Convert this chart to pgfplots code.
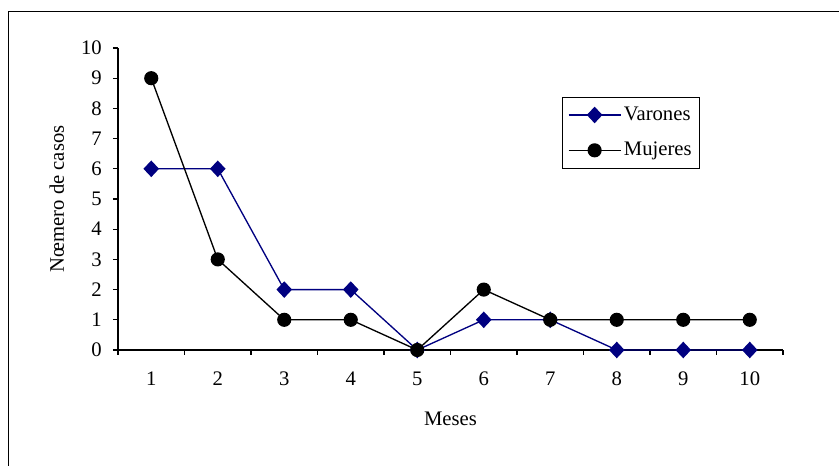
\documentclass[border=0pt]{standalone}
\usepackage{pgfplots}
\pgfplotsset{compat=1.18}
\usepackage{fontspec}
\setmainfont{Liberation Serif}
\definecolor{varones}{HTML}{000080}

\begin{document}
\fontsize{15.5}{18}\selectfont
\begin{tikzpicture}
	% page = 839 x 466 px, 1 px = 0.75pt
	\useasboundingbox (0pt,0pt) rectangle (629.25pt,349.5pt);
	\draw[line width=1pt] (6.4pt,-5pt) -- (6.4pt,340.9pt) -- (640pt,340.9pt);
	\begin{axis}[
			at={(88.5pt,87pt)},
			anchor=south west,
			scale only axis,
			width=498.75pt,
			height=226.5pt,
			xmin=0.5, xmax=10.5,
			ymin=0, ymax=10,
			axis x line=bottom,
			axis y line=left,
			axis line style={-, line width=0.8pt},
			xtick={0.5,1.5,...,10.5},
			xticklabels={},
			extra x ticks={1,2,...,10},
			extra x tick labels={1,2,3,4,5,6,7,8,9,10},
			extra x tick style={major tick length=0pt},
			ytick={0,1,...,10},
			tick align=outside,
			major tick length=3.75pt,
			tick style={black, line width=0.8pt},
			/pgf/number format/assume math mode=true,
			xticklabel style={anchor=center, yshift=-21.75pt},
			yticklabel style={anchor=east, inner sep=0pt, xshift=-8.25pt},
			xlabel={Meses},
			ylabel={Nœmero de casos},
			xlabel style={at={(axis description cs:0.5,-0.228)}, anchor=center},
			ylabel style={at={(axis description cs:-0.092,0.5)}, anchor=center, rotate=0},
			legend style={
				at={(axis description cs:0.668,0.838)}, anchor=north west,
				draw=black, line width=0.6pt,
				inner xsep=4pt, inner ysep=5pt,
				row sep=10pt,
				font=\fontsize{15.5}{18}\selectfont,
			},
			legend cell align=left,
			legend image code/.code={
				\draw[#1] (0pt,0pt) -- (39pt,0pt);
				\draw[#1, mark repeat=1] plot coordinates {(19.5pt,0pt)};
			},
			clip=false,
		]
		\addplot[varones, line width=1pt, mark=diamond*, mark size=5.5pt,
			mark options={xscale=1.25}] coordinates {
			(1,6) (2,6) (3,2) (4,2) (5,0) (6,1) (7,1) (8,0) (9,0) (10,0)
		};
		\addplot[black, line width=1pt, mark=*, mark size=4.8pt] coordinates {
			(1,9) (2,3) (3,1) (4,1) (5,0) (6,2) (7,1) (8,1) (9,1) (10,1)
		};
		\legend{Varones,Mujeres}
	\end{axis}
\end{tikzpicture}
\end{document}
